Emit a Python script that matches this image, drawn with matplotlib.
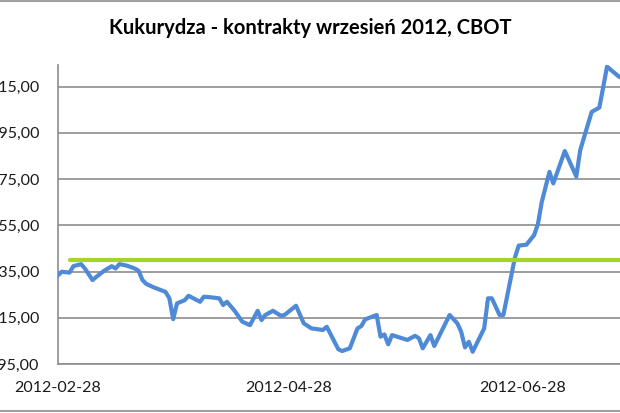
import numpy as np
import matplotlib.pyplot as plt
import matplotlib.dates as mdates
from matplotlib.lines import Line2D

# Kukurydza, kontrakty wrzesien 2012 (CBOT)
dates = [
    "2012-02-28", "2012-02-29", "2012-03-02", "2012-03-03", "2012-03-05",
    "2012-03-06", "2012-03-08", "2012-03-09", "2012-03-11", "2012-03-13",
    "2012-03-14", "2012-03-15", "2012-03-17", "2012-03-19", "2012-03-20",
    "2012-03-21", "2012-03-22", "2012-03-24", "2012-03-27", "2012-03-28",
    "2012-03-29", "2012-03-30", "2012-04-01", "2012-04-02", "2012-04-05",
    "2012-04-06", "2012-04-08", "2012-04-10", "2012-04-11", "2012-04-12",
    "2012-04-14", "2012-04-16", "2012-04-18", "2012-04-20", "2012-04-21",
    "2012-04-22", "2012-04-24", "2012-04-26", "2012-04-27", "2012-04-30",
    "2012-05-02", "2012-05-04", "2012-05-07", "2012-05-08", "2012-05-11",
    "2012-05-12", "2012-05-14", "2012-05-16", "2012-05-17", "2012-05-18",
    "2012-05-21", "2012-05-22", "2012-05-23", "2012-05-24", "2012-05-25",
    "2012-05-29", "2012-05-31", "2012-06-01", "2012-06-02", "2012-06-04",
    "2012-06-05", "2012-06-09", "2012-06-11", "2012-06-12", "2012-06-13",
    "2012-06-14", "2012-06-15", "2012-06-18", "2012-06-19", "2012-06-20",
    "2012-06-22", "2012-06-23", "2012-06-25", "2012-06-26", "2012-06-27",
    "2012-06-29", "2012-07-01", "2012-07-02", "2012-07-03", "2012-07-05",
    "2012-07-06", "2012-07-09", "2012-07-12", "2012-07-13", "2012-07-16",
    "2012-07-18", "2012-07-20", "2012-07-23", "2012-07-24",
]
prices = [
    233.4, 234.9, 234.5, 237.3, 238.2,
    236.3, 231.3, 232.7, 235.3, 237.3,
    236.3, 238.2, 237.5, 236.3, 235.3,
    231.3, 229.6, 228.1, 226.2, 223.4,
    214.4, 221.2, 222.6, 224.5, 221.9,
    224.1, 223.8, 223.4, 220.5, 221.9,
    218.0, 213.3, 211.8, 218.0, 214.0,
    216.2, 218.0, 215.9, 216.2, 220.2,
    212.6, 210.4, 209.7, 211.1, 201.4,
    200.6, 201.8, 210.4, 211.4, 214.3,
    216.2, 206.8, 207.8, 203.5, 207.5,
    205.4, 207.2, 206.1, 201.8, 207.5,
    202.8, 216.2, 212.6, 209.0, 202.2,
    204.6, 200.3, 210.4, 223.4, 223.4,
    216.2, 216.2, 232.7, 241.0, 246.2,
    246.6, 250.7, 255.5, 265.1, 278.1,
    273.1, 287.1, 276.1, 287.4, 304.0,
    305.9, 323.6, 319.4, 318.5,
]
level_dates = ["2012-03-02", "2012-07-30"]
level_value = 240.0

yticks = [195, 215, 235, 255, 275, 295, 315]
xticks = ["2012-02-28", "2012-04-28", "2012-06-28"]

x = np.array(dates, dtype="datetime64[D]")
xl = np.array(level_dates, dtype="datetime64[D]")
xt = np.array(xticks, dtype="datetime64[D]")

fig = plt.figure(figsize=(6.2, 4.13), dpi=100)
ax = fig.add_axes([58 / 620, 49 / 413, 562 / 620, 299 / 413])

ax.plot(x, prices, color="#4f8ad6", lw=3, solid_joinstyle="round", zorder=3)
ax.plot(xl, [level_value] * 2, color="#a6d52a", lw=3, solid_capstyle="round", zorder=4)

ax.set_ylim(195, 324.3)
ax.set_xlim(np.datetime64("2012-02-28"), np.datetime64("2012-02-28") + np.timedelta64(146, "D") + np.timedelta64(9, "h"))
ax.set_yticks(yticks)
ax.set_yticklabels([f"{v:.2f}".replace(".", ",") for v in yticks])
ax.set_xticks(xt)
ax.xaxis.set_major_formatter(mdates.DateFormatter("%Y-%m-%d"))

ax.grid(axis="y", color="#8c8c8c", lw=1.2)
ax.set_axisbelow(True)
for s in ["top", "right"]:
    ax.spines[s].set_visible(False)
for s in ["left", "bottom"]:
    ax.spines[s].set_color("#8c8c8c")
    ax.spines[s].set_linewidth(1.2)
ax.tick_params(length=0, labelsize=11.5, colors="#1a1a1a")
ax.tick_params(axis="y", pad=13.5)
ax.tick_params(axis="x", pad=12.5)
for lab in ax.get_xticklabels() + ax.get_yticklabels():
    lab.set_family("Lato")

fig.text(0.5, 1 - 28 / 413, "Kukurydza - kontrakty wrzesień 2012, CBOT",
         ha="center", va="center", fontsize=14.5, fontweight="bold", family="Lato")

# border lines of the original screenshot
fig.add_artist(Line2D([0, 1], [1 - 1 / 413, 1 - 1 / 413], color="#a0a0a0", lw=1.5))
fig.add_artist(Line2D([0, 1], [1 - 411 / 413, 1 - 411 / 413], color="#a0a0a0", lw=1.5))

plt.savefig("out.png", dpi=100)
